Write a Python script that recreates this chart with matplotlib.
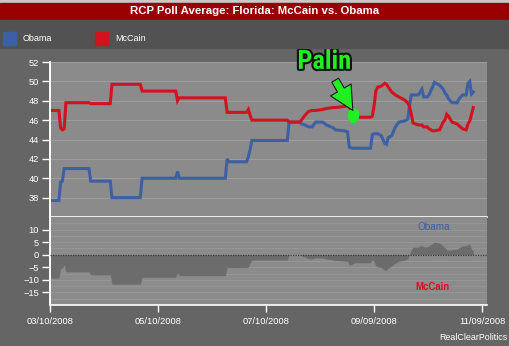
import numpy as np
import matplotlib
matplotlib.use("Agg")
import matplotlib.pyplot as plt
import matplotlib.dates as mdates
from matplotlib.patches import Rectangle
from matplotlib.path import Path
from matplotlib.transforms import Affine2D
from matplotlib import font_manager
import matplotlib.patheffects as pe

# RCP poll average, Florida 2008
dates = ["2008-03-10", "2008-03-15", "2008-03-16", "2008-03-17", "2008-03-18",
         "2008-03-19", "2008-04-01", "2008-04-02", "2008-04-13", "2008-04-14",
         "2008-04-30", "2008-05-01", "2008-05-19", "2008-05-20", "2008-05-21",
         "2008-05-22", "2008-06-16", "2008-06-17", "2008-06-18", "2008-06-19",
         "2008-06-29", "2008-06-30", "2008-07-01", "2008-07-02", "2008-07-22",
         "2008-07-23", "2008-07-29", "2008-07-30", "2008-08-01", "2008-08-03",
         "2008-08-05", "2008-08-07", "2008-08-11", "2008-08-13", "2008-08-17",
         "2008-08-18", "2008-08-23", "2008-08-25", "2008-08-26", "2008-08-28",
         "2008-08-29", "2008-09-07", "2008-09-08", "2008-09-09", "2008-09-10",
         "2008-09-11", "2008-09-13", "2008-09-15", "2008-09-16", "2008-09-17",
         "2008-09-19", "2008-09-21", "2008-09-23", "2008-09-26", "2008-09-28",
         "2008-09-29", "2008-09-30", "2008-10-01", "2008-10-04", "2008-10-06",
         "2008-10-07", "2008-10-09", "2008-10-10", "2008-10-12", "2008-10-13",
         "2008-10-16", "2008-10-18", "2008-10-19", "2008-10-20", "2008-10-21",
         "2008-10-23", "2008-10-26", "2008-10-27", "2008-10-29", "2008-10-31",
         "2008-11-01", "2008-11-02", "2008-11-03", "2008-11-04"]

obama = [37.7, 37.7, 39.6, 39.7, 41.0,
         41.0, 41.0, 39.7, 39.7, 38.0,
         38.0, 40.0, 40.0, 40.0, 40.7,
         40.0, 40.0, 40.0, 42.0, 41.7,
         41.7, 42.2, 43.0, 43.9, 43.9,
         45.8, 45.8, 45.6, 45.5, 45.3,
         45.3, 45.8, 45.8, 45.5, 45.2,
         45.0, 44.9, 44.8, 43.2, 43.1,
         43.1, 43.1, 44.5, 44.6, 44.6,
         44.6, 44.4, 43.6, 43.5, 44.2,
         44.4, 45.3, 45.8, 45.9, 46.1,
         47.5, 48.6, 48.6, 48.6, 49.2,
         48.4, 48.4, 48.6, 49.4, 49.9,
         49.6, 49.2, 48.8, 48.6, 48.2,
         47.8, 47.8, 48.2, 48.6, 48.6,
         49.8, 50.0, 48.7, 48.9]

mccain = [47.0, 47.0, 45.2, 45.0, 45.1,
          47.8, 47.8, 47.7, 47.7, 49.7,
          49.7, 49.0, 49.0, 49.0, 48.0,
          48.3, 48.3, 48.3, 46.8, 46.8,
          46.8, 47.1, 46.5, 46.0, 46.0,
          45.8, 45.8, 46.0, 46.5, 46.9,
          47.0, 47.0, 47.1, 47.2, 47.3,
          47.3, 47.4, 47.5, 47.3, 46.8,
          46.3, 46.3, 46.4, 47.5, 49.0,
          49.4, 49.5, 49.8, 49.7, 49.4,
          48.9, 48.6, 48.4, 48.1, 47.8,
          47.4, 46.6, 45.7, 45.5, 45.5,
          45.3, 45.3, 45.1, 44.9, 44.9,
          45.0, 45.8, 46.0, 46.6, 46.4,
          45.8, 45.6, 45.4, 45.1, 45.0,
          45.6, 45.9, 46.6, 47.3]

tick_dates = ["2008-03-10", "2008-05-10", "2008-07-10", "2008-09-09", "2008-11-09"]
palin_date = "2008-08-28"
palin_value = 46.5

BG = "#656565"
PLOT_BG = "#8b8b8b"
BLUE = "#3d5fa6"
RED = "#d2121e"
GREEN = "#22ee22"

# a narrow bold face for the callout if one is installed
installed = {f.name for f in font_manager.fontManager.ttflist}
callout_font, callout_size = "Liberation Sans", 16.5
for fam, size in [("Liberation Sans Narrow", 20), ("DejaVu Sans Condensed", 17.5),
                  ("Roboto Condensed", 19)]:
    if fam in installed:
        callout_font, callout_size = fam, size
        break

x = np.array(dates, dtype="datetime64[D]")
ob = np.array(obama)
mc = np.array(mccain)
margin = ob - mc

W, H = 510, 346
fig = plt.figure(figsize=(W / 100, H / 100), dpi=100, facecolor=BG)


def box(left, top, right, bottom):
    # pixel box -> figure fraction
    return [left / W, 1 - bottom / H, (right - left) / W, (bottom - top) / H]


# header strips
fig.patches.append(Rectangle((0, 1 - 3 / H), 1, 3 / H, transform=fig.transFigure,
                             color="#c9c9c9", zorder=0))
fig.patches.append(Rectangle((0, 1 - 20 / H), 1, 17 / H, transform=fig.transFigure,
                             color="#990000", zorder=0))
fig.patches.append(Rectangle((0, 1 - 48 / H), 1, 28 / H, transform=fig.transFigure,
                             color="#525252", zorder=0))
fig.text(0.5, 1 - 11.5 / H, "RCP Poll Average: Florida: McCain vs. Obama",
         ha="center", va="center", color="white", fontsize=8.2,
         fontweight="bold", family="Liberation Sans")

# legend
for lx, col, name in [(3, BLUE, "Obama"), (95, RED, "McCain")]:
    fig.patches.append(Rectangle((lx / W, 1 - 45 / H), 13 / W, 13 / H,
                                 transform=fig.transFigure, color=col))
    fig.text((lx + 20) / W, 1 - 38.5 / H, name, ha="left", va="center",
             color="white", fontsize=6.5, family="Liberation Sans")

ax1 = fig.add_axes(box(50, 62, 487, 217))
ax2 = fig.add_axes(box(50, 217, 487, 305), sharex=ax1)

for ax in (ax1, ax2):
    ax.set_facecolor(PLOT_BG)
    for s in ("top", "right"):
        ax.spines[s].set_visible(False)
    ax.spines["left"].set_color("white")
    ax.spines["left"].set_linewidth(1.4)
    ax.spines["bottom"].set_color("white")
    ax.spines["bottom"].set_linewidth(1.2)
    ax.tick_params(colors="white", labelcolor="white", length=6, width=1,
                   labelsize=6.7, pad=2)

# upper panel: the two averages
ax1.set_ylim(36, 52)
ax1.set_yticks(np.arange(38, 53, 2))
ax1.grid(axis="y", color="#9d9d9d", lw=0.8)
ax1.set_axisbelow(True)
ax1.plot(x, ob, color=BLUE, lw=2.2, solid_joinstyle="miter")
ax1.plot(x, mc, color=RED, lw=2.2, solid_joinstyle="miter")
ax1.tick_params(axis="x", length=0, labelbottom=False)

# Palin pick
oval = Path.unit_circle().transformed(Affine2D().scale(0.72, 1.0))
pd_ = np.datetime64(palin_date)
ax1.plot([pd_], [palin_value], marker=oval, color=GREEN, ms=10, mec=GREEN, zorder=5)
ax1.annotate("Palin", xy=(pd_, palin_value + 0.5), xytext=(-20.5, 35),
             textcoords="offset points", ha="center", va="center",
             color=GREEN, fontsize=callout_size, fontweight="bold",
             family=callout_font,
             path_effects=[pe.withStroke(linewidth=3, foreground="#111111")],
             arrowprops=dict(arrowstyle="simple,head_length=0.9,head_width=0.9,tail_width=0.3",
                             fc=GREEN, ec="#1a1a1a", lw=0.8, shrinkA=3, shrinkB=0),
             zorder=6)

# lower panel: spread
ax2.set_ylim(-20, 15)
ax2.set_yticks([-15, -10, -5, 0, 5, 10])
for g in np.arange(-17.5, 15, 2.5):
    ax2.axhline(g, color="#979797", lw=0.6, zorder=0)
ax2.fill_between(x, margin, 0, color="#6c6c6c", lw=0, zorder=2)
ax2.axhline(0, color="#3a3a3a", lw=0.9, ls=(0, (1, 1)), zorder=3)
ax2.text(np.datetime64("2008-10-13"), 11.2, "Obama", color=BLUE, fontsize=7.2,
         ha="center", va="center", family="Liberation Sans")
ax2.text(np.datetime64("2008-10-12"), -12.8, "McCain", color=RED, fontsize=6.9,
         fontweight="bold", ha="center", va="center", family="Liberation Sans")

ax2.set_xlim(np.datetime64("2008-03-10"), np.datetime64("2008-11-11T18:00"))
ax2.set_xticks(np.array(tick_dates, dtype="datetime64[D]"))
ax2.xaxis.set_major_formatter(mdates.DateFormatter("%m/%d/%Y"))
ax2.tick_params(axis="x", length=5, pad=4)

for ax in (ax1, ax2):
    for lab in ax.get_yticklabels() + ax.get_xticklabels():
        lab.set_family("Liberation Sans")

fig.text(508 / W, 1 - 338 / H, "RealClearPolitics", ha="right", va="center",
         color="white", fontsize=6.4, family="Liberation Sans")

fig.savefig("out.png", dpi=100, facecolor=BG)
